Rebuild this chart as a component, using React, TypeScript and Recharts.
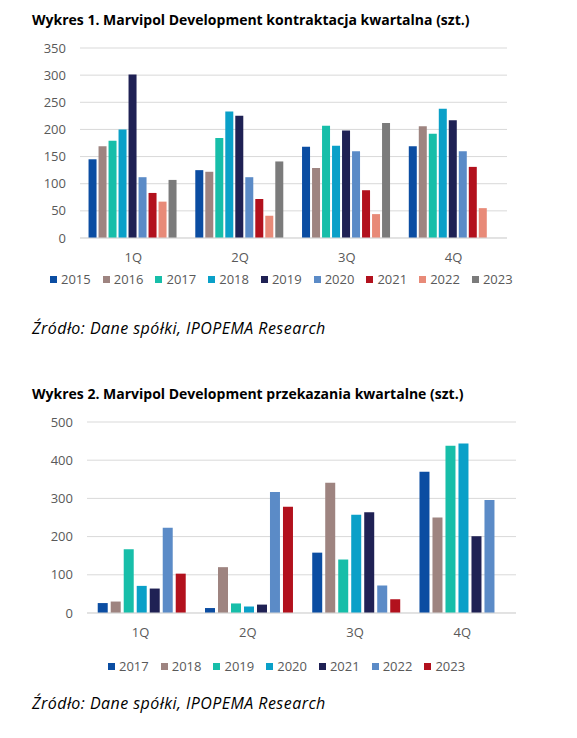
import React from 'react';
import { BarChart, Bar, XAxis, YAxis, CartesianGrid, Legend } from 'recharts';

const quarters = ['1Q', '2Q', '3Q', '4Q'];

// Wykres 1 – kontraktacja
const years1 = ['2015', '2016', '2017', '2018', '2019', '2020', '2021', '2022', '2023'];
const k2015 = [145, 125, 168, 169];
const k2016 = [169, 122, 129, 206];
const k2017 = [179, 184, 207, 192];
const k2018 = [200, 233, 170, 238];
const k2019 = [301, 225, 198, 217];
const k2020 = [112, 112, 160, 160];
const k2021 = [83, 72, 88, 131];
const k2022 = [67, 41, 44, 55];
const k2023 = [107, 141, 212, null];
const series1 = [k2015, k2016, k2017, k2018, k2019, k2020, k2021, k2022, k2023];
const ticks1 = [0, 50, 100, 150, 200, 250, 300, 350];

// Wykres 2 – przekazania
const years2 = ['2017', '2018', '2019', '2020', '2021', '2022', '2023'];
const p2017 = [26, 13, 158, 370];
const p2018 = [30, 120, 341, 250];
const p2019 = [167, 25, 140, 438];
const p2020 = [71, 17, 257, 444];
const p2021 = [64, 22, 264, 201];
const p2022 = [223, 317, 72, 296];
const p2023 = [103, 278, 36, null];
const series2 = [p2017, p2018, p2019, p2020, p2021, p2022, p2023];
const ticks2 = [0, 100, 200, 300, 400, 500];

const palette = ['#0b4da2', '#9e8480', '#17bea9', '#0aa0c8', '#1f2154', '#5b8bc7', '#b2111d', '#e88a78', '#7b7b7b'];

const title1 = 'Wykres 1. Marvipol Development kontraktacja kwartalna (szt.)';
const title2 = 'Wykres 2. Marvipol Development przekazania kwartalne (szt.)';
const source = 'Źródło: Dane spółki, IPOPEMA Research';

const FONT = '"Open Sans", "DejaVu Sans", sans-serif';
const TICK = { fill: '#595959', fontSize: 13, fontFamily: FONT };

function buildRows(years: string[], series: (number | null)[][]) {
  return quarters.map((q, i) => {
    const row: Record<string, any> = { q };
    years.forEach((y, j) => {
      row[y] = series[j][i];
    });
    return row;
  });
}

const rows1 = buildRows(years1, series1);
const rows2 = buildRows(years2, series2);

const LegendContent = (props: any) => {
  const items = props.payload || [];
  return (
    <div style={{ display: 'flex', fontFamily: FONT, fontSize: 13, color: '#595959', lineHeight: '18px' }}>
      {items.map((it: any) => (
        <div key={it.value} style={{ display: 'flex', alignItems: 'center', marginRight: 12 }}>
          <span style={{ display: 'inline-block', width: 7, height: 7, background: it.color, marginRight: 4 }} />
          <span>{it.value}</span>
        </div>
      ))}
    </div>
  );
};

const textBase: React.CSSProperties = { position: 'absolute', left: 32, fontFamily: FONT, color: '#000', whiteSpace: 'nowrap' };

export default function App() {
  return (
    <div style={{ position: 'absolute', left: 0, top: 0, width: 577, height: 738, background: '#fff', overflow: 'hidden' }}>
      <div style={{ ...textBase, top: 10, fontSize: 14, fontWeight: 700 }}>{title1}</div>
      <div style={{ position: 'absolute', left: 0, top: 0 }}>
        <BarChart width={577} height={300} data={rows1} margin={{ top: 48, right: 70, left: 0, bottom: 0 }} barCategoryGap="8%" barGap={2}>
          <CartesianGrid vertical={false} stroke="#d9d9d9" />
          <XAxis dataKey="q" height={62} tick={TICK} tickLine={false} axisLine={{ stroke: '#d9d9d9' }} tickMargin={9} />
          <YAxis width={80} domain={[0, 350]} ticks={ticks1} tick={TICK} tickLine={false} axisLine={false} tickMargin={8} />
          <Legend layout="horizontal" verticalAlign="middle" align="center" content={LegendContent} wrapperStyle={{ top: 270, left: 50, width: 520 }} />
          {years1.map((y, i) => (
            <Bar key={y} dataKey={y} fill={palette[i]} isAnimationActive={false} />
          ))}
        </BarChart>
      </div>
      <div style={{ ...textBase, top: 318, fontSize: 16, fontStyle: 'italic', letterSpacing: 0.45, lineHeight: 1.362 }}>{source}</div>

      <div style={{ ...textBase, top: 384, fontSize: 14, fontWeight: 700 }}>{title2}</div>
      <div style={{ position: 'absolute', left: 0, top: 370 }}>
        <BarChart width={577} height={300} data={rows2} margin={{ top: 52, right: 61, left: 0, bottom: 0 }} barCategoryGap="10%" barGap={3}>
          <CartesianGrid vertical={false} stroke="#d9d9d9" />
          <XAxis dataKey="q" height={57} tick={TICK} tickLine={false} axisLine={{ stroke: '#d9d9d9' }} tickMargin={9} />
          <YAxis width={87} domain={[0, 500]} ticks={ticks2} tick={TICK} tickLine={false} axisLine={false} tickMargin={8} />
          <Legend layout="horizontal" verticalAlign="middle" align="center" content={LegendContent} wrapperStyle={{ top: 287, left: 108, width: 460 }} />
          {years2.map((y, i) => (
            <Bar key={y} dataKey={y} fill={palette[i]} isAnimationActive={false} />
          ))}
        </BarChart>
      </div>
      <div style={{ ...textBase, top: 693, fontSize: 16, fontStyle: 'italic', letterSpacing: 0.45, lineHeight: 1.362 }}>{source}</div>
    </div>
  );
}
